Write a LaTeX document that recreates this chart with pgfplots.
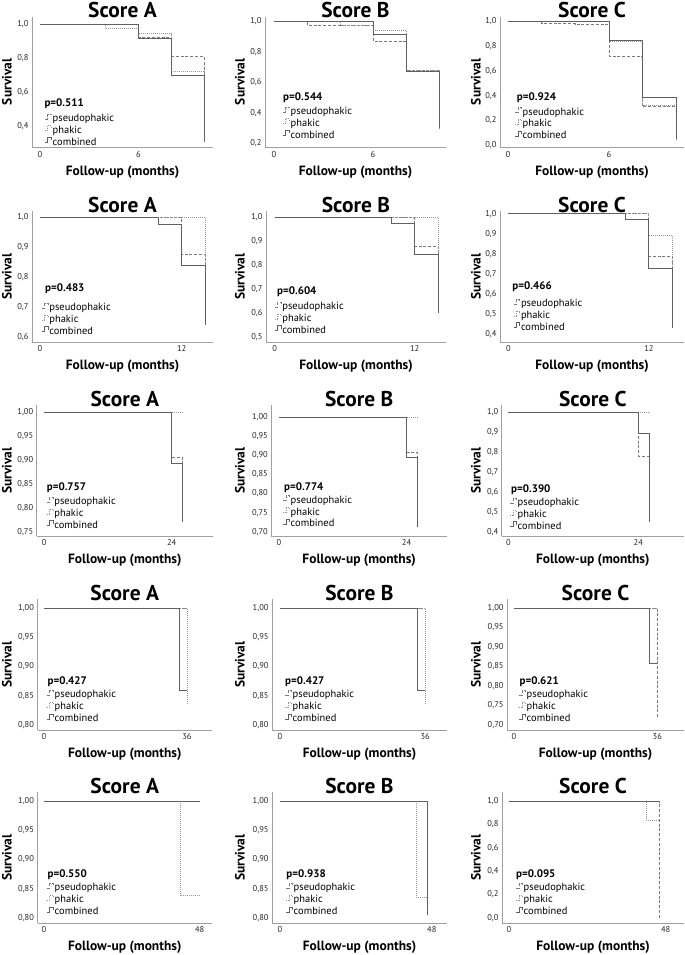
\documentclass[border=0pt]{standalone}
\usepackage{fontspec}
\setmainfont{PT Sans}
\usepackage{pgfplots}
\pgfplotsset{compat=1.18}
\usetikzlibrary{calc}
\definecolor{axisgray}{HTML}{A0A0A0}
\definecolor{cpseudo}{HTML}{7A7A7A}
\definecolor{cphakic}{HTML}{959595}
\definecolor{ccomb}{HTML}{606060}
\tikzset{
  pseudo/.style={color=cpseudo, line width=0.75bp, dash pattern=on 3bp off 1.8bp},
  phakic/.style={color=cphakic, line width=0.75bp, dash pattern=on 0.9bp off 1.1bp},
  comb/.style={color=ccomb, line width=0.75bp},
  pval/.style={anchor=west, font=\fontsize{11}{12}\selectfont\bfseries, inner sep=0pt},
}
\pgfplotsset{
  km/.style={
    scale only axis, anchor=south west, height=131bp,
    axis x line*=bottom, axis y line*=left,
    axis line style={draw=axisgray, line width=0.6bp, -},
    major tick length=0pt,
    tick label style={font=\fontsize{8.5}{9}\selectfont, text=black!85},
    /pgf/number format/assume math mode=true,
    /pgf/number format/use comma,
    xticklabel style={/pgf/number format/.cd, fixed, precision=0},
    every axis title/.style={at={(0.5,1)}, anchor=center, yshift=6.5bp, inner sep=0pt,
      font=\fontsize{21.5}{24}\selectfont\bfseries},
    xlabel={Follow-up (months)},
    every axis x label/.style={at={(0.5,0)}, anchor=center, yshift=-24.5bp, inner sep=0pt,
      font=\fontsize{13.5}{15}\selectfont\bfseries},
    ylabel={Survival},
    legend style={draw=none, fill=none, anchor=south west, font=\fontsize{10.5}{11}\selectfont,
      inner sep=0pt, outer sep=0pt, row sep=1.2bp, yshift=-5bp,
      nodes={inner sep=0.5bp, text height=7.4bp, text depth=2.2bp},
      /tikz/every odd column/.style={column sep=0.6bp}},
    legend cell align=left,
    legend image code/.code={\draw[##1, line width=0.6bp] (0bp,0bp) -- (2.5bp,0bp) -- (2.5bp,5bp) -- (6bp,5bp) -- (6bp,2bp);},
    legend entries={pseudophakic,phakic,combined},
  },
  ylsh/.style={every axis y label/.style={rotate=90, inner sep=0pt, font=\fontsize{13.5}{15}\selectfont\bfseries,
     at={($(axis description cs:0,0.5)+(#1,0)$)}, anchor=center}},
  yprec/.style={yticklabel style={/pgf/number format/.cd, fixed, fixed zerofill, precision=#1}},
}
\begin{document}
\begin{tikzpicture}
\useasboundingbox (0,0) rectangle (685bp,-955bp);
% ================= ROW 1 =================
\begin{axis}[km, at={(32bp,-147.5bp)}, width=181bp, xmin=-0.49, xmax=10.55, ymin=0.2765, ymax=1.047,
  xtick={0,6}, ytick={0.4,0.6,0.8,1.0}, yprec=1, title={Score A}, ylsh=-25bp,
  legend style={at={(0.0718,0.0366)}}]
\addplot[pseudo] coordinates {(0,1)(6,1)(6,0.925)(8,0.925)(8,0.81)(10,0.81)(10,0.31)};
\addplot[phakic] coordinates {(0,1)(4,1)(4,0.975)(6,0.975)(6,0.945)(8,0.945)(8,0.724)(10,0.724)(10,0.31)};
\addplot[comb] coordinates {(0,1)(6,1)(6,0.921)(8,0.921)(8,0.70)(10,0.70)(10,0.31)};
\node[pval] at (rel axis cs:0.068,0.336) {p=0.511};
\end{axis}
\begin{axis}[km, at={(265bp,-147.5bp)}, width=181bp, xmin=-0.545, xmax=10.42, ymin=0.174, ymax=1.033,
  xtick={0,6}, ytick={0.2,0.4,0.6,0.8,1.0}, yprec=1, title={Score B}, ylsh=-25bp,
  legend style={at={(0.0994,0.090)}}]
\addplot[pseudo] coordinates {(0,1)(2,1)(2,0.976)(6,0.976)(6,0.873)(8,0.873)(8,0.677)(10,0.677)(10,0.30)};
\addplot[phakic] coordinates {(0,1)(4,1)(4,0.978)(6,0.978)(6,0.939)(8,0.939)(8,0.683)(10,0.683)(10,0.29)};
\addplot[comb] coordinates {(0,1)(6,1)(6,0.917)(8,0.917)(8,0.67)(10,0.67)(10,0.30)};
\node[pval] at (rel axis cs:0.0994,0.384) {p=0.544};
\end{axis}
\begin{axis}[km, at={(500bp,-147.5bp)}, width=184bp, xmin=-0.475, xmax=10.46, ymin=-0.019, ymax=1.04,
  xtick={0,6}, ytick={0.0,0.2,0.4,0.6,0.8,1.0}, yprec=1, title={Score C}, ylsh=-24bp,
  legend style={at={(0.0815,0.0847)}}]
\addplot[pseudo] coordinates {(0,1)(2,1)(2,0.981)(4,0.981)(4,0.973)(6,0.973)(6,0.72)(8,0.72)(8,0.31)(10,0.31)(10,0.05)};
\addplot[phakic] coordinates {(0,1)(6,1)(6,0.838)(8,0.838)(8,0.323)(10,0.323)(10,0.04)};
\addplot[comb] coordinates {(0,1)(6,1)(6,0.849)(8,0.849)(8,0.385)(10,0.385)(10,0.05)};
\node[pval] at (rel axis cs:0.0908,0.382) {p=0.924};
\end{axis}
% ================= ROW 2 =================
\begin{axis}[km, at={(32bp,-342bp)}, width=181bp, xmin=-0.68, xmax=14.66, ymin=0.583, ymax=1.020,
  xtick={0,12}, ytick={0.6,0.7,0.8,0.9,1.0}, yprec=1, title={Score A}, ylsh=-25bp,
  legend style={at={(0.0536,0.0771)}}]
\addplot[pseudo] coordinates {(0,1)(12,1)(12,0.874)(14,0.874)(14,0.64)};
\addplot[phakic] coordinates {(0,1)(14,1)(14,0.64)};
\addplot[comb] coordinates {(0,1)(10,1)(10,0.974)(12,0.974)(12,0.839)(14,0.839)(14,0.639)};
\node[pval] at (rel axis cs:0.0718,0.41) {p=0.483};
\end{axis}
\begin{axis}[km, at={(266bp,-342bp)}, width=180bp, xmin=-0.75, xmax=14.69, ymin=0.479, ymax=1.026,
  xtick={0,12}, ytick={0.5,0.6,0.7,0.8,0.9,1.0}, yprec=1, title={Score B}, ylsh=-26bp,
  legend style={at={(0.0483,0.0847)}}]
\addplot[pseudo] coordinates {(0,1)(12,1)(12,0.879)(14,0.879)(14,0.60)};
\addplot[phakic] coordinates {(0,1)(14,1)(14,0.60)};
\addplot[comb] coordinates {(0,1)(10,1)(10,0.976)(12,0.976)(12,0.844)(14,0.844)(14,0.60)};
\node[pval] at (rel axis cs:0.0611,0.382) {p=0.604};
\end{axis}
\begin{axis}[km, at={(500bp,-342bp)}, width=184bp, xmin=-0.71, xmax=15.0, ymin=0.362, ymax=1.013,
  xtick={0,12}, ytick={0.4,0.5,0.6,0.7,0.8,0.9,1.0}, yprec=1, title={Score C}, ylsh=-24bp,
  legend style={at={(0.0723,0.1076)}}]
\addplot[pseudo] coordinates {(0,1)(12,1)(12,0.788)(14,0.788)(14,0.44)};
\addplot[phakic] coordinates {(0,1)(12,1)(12,0.894)(14,0.894)(14,0.44)};
\addplot[comb] coordinates {(0,1)(10,1)(10,0.97)(12,0.97)(12,0.728)(14,0.728)(14,0.433)};
\node[pval] at (rel axis cs:0.0668,0.42) {p=0.466};
\end{axis}
% ================= ROW 3 =================
\begin{axis}[km, at={(36.7bp,-536bp)}, width=176.3bp, xmin=-1.43, xmax=31.77, ymin=0.741, ymax=1.015,
  xtick={0,24}, ytick={0.75,0.80,0.85,0.90,0.95,1.00}, yprec=2, title={Score A}, ylsh=-29.7bp,
  legend style={at={(0.0567,0.0771)}}]
\addplot[pseudo] coordinates {(0,1)(24,1)(24,0.906)(26,0.906)(26,0.771)};
\addplot[phakic] coordinates {(0,1)(26,1)};
\addplot[comb] coordinates {(0,1)(24,1)(24,0.893)(26,0.893)(26,0.771)};
\node[pval] at (rel axis cs:0.0567,0.372) {p=0.757};
\end{axis}
\begin{axis}[km, at={(271.3bp,-536bp)}, width=175.7bp, xmin=-1.45, xmax=31.6, ymin=0.689, ymax=1.031,
  xtick={0,24}, ytick={0.70,0.75,0.80,0.85,0.90,0.95,1.00}, yprec=2, title={Score B}, ylsh=-31.3bp,
  legend style={at={(0.0666,0.0878)}}]
\addplot[pseudo] coordinates {(0,1)(24,1)(24,0.907)(26,0.907)(26,0.713)};
\addplot[phakic] coordinates {(0,1)(26,1)};
\addplot[comb] coordinates {(0,1)(24,1)(24,0.894)(26,0.894)(26,0.713)};
\node[pval] at (rel axis cs:0.0723,0.372) {p=0.774};
\end{axis}
\begin{axis}[km, at={(501.7bp,-536bp)}, width=182.3bp, xmin=-1.22, xmax=32.43, ymin=0.378, ymax=1.036,
  xtick={0,24}, ytick={0.4,0.5,0.6,0.7,0.8,0.9,1.0}, yprec=1, title={Score C}, ylsh=-25.7bp,
  legend style={at={(0.0455,0.0695)}}]
\addplot[pseudo] coordinates {(0,1)(24,1)(24,0.78)(26,0.78)(26,0.446)};
\addplot[phakic] coordinates {(0,1)(26,1)};
\addplot[comb] coordinates {(0,1)(24,1)(24,0.894)(26,0.894)(26,0.446)};
\node[pval] at (rel axis cs:0.051,0.351) {p=0.390};
\end{axis}
% ================= ROW 4 =================
\begin{axis}[km, at={(37.5bp,-730bp)}, width=174.5bp, xmin=-1.64, xmax=42.3, ymin=0.7915, ymax=1.0155,
  xtick={0,36}, ytick={0.80,0.85,0.90,0.95,1.00}, yprec=2, title={Score A}, ylsh=-30.5bp,
  legend style={at={(0.0544,0.0824)}}]
\addplot[pseudo] coordinates {(0,1)(36,1)};
\addplot[phakic] coordinates {(0,1)(36,1)(36,0.836)};
\addplot[comb] coordinates {(0,1)(34,1)(34,0.86)(36,0.86)};
\node[pval] at (rel axis cs:0.0567,0.37) {p=0.427};
\end{axis}
\begin{axis}[km, at={(272bp,-730bp)}, width=175bp, xmin=-1.99, xmax=41.4, ymin=0.7915, ymax=1.0155,
  xtick={0,36}, ytick={0.80,0.85,0.90,0.95,1.00}, yprec=2, title={Score B}, ylsh=-32bp,
  legend style={at={(0.0743,0.0824)}}]
\addplot[pseudo] coordinates {(0,1)(36,1)};
\addplot[phakic] coordinates {(0,1)(36,1)(36,0.836)};
\addplot[comb] coordinates {(0,1)(34,1)(34,0.86)(36,0.86)};
\node[pval] at (rel axis cs:0.0743,0.37) {p=0.427};
\end{axis}
\begin{axis}[km, at={(507bp,-730bp)}, width=177bp, xmin=-1.74, xmax=42.7, ymin=0.687, ymax=1.023,
  xtick={0,36}, ytick={0.70,0.75,0.80,0.85,0.90,0.95,1.00}, yprec=2, title={Score C}, ylsh=-31bp,
  legend style={at={(0.0678,0.0824)}}]
\addplot[pseudo] coordinates {(0,1)(36,1)(36,0.718)};
\addplot[phakic] coordinates {(0,1)(36,1)};
\addplot[comb] coordinates {(0,1)(34,1)(34,0.857)(36,0.857)};
\node[pval] at (rel axis cs:0.07,0.37) {p=0.621};
\end{axis}
% ================= ROW 5 =================
\begin{axis}[km, at={(37.5bp,-923bp)}, width=174.5bp, xmin=-2.0, xmax=51.8, ymin=0.7915, ymax=1.0155,
  xtick={0,48}, ytick={0.80,0.85,0.90,0.95,1.00}, yprec=2, title={Score A}, ylsh=-30.5bp,
  legend style={at={(0.0544,0.0824)}}]
\addplot[pseudo] coordinates {(0,1)(48,1)};
\addplot[phakic] coordinates {(0,1)(42,1)(42,0.838)(48,0.838)};
\addplot[comb] coordinates {(0,1)(48,1)};
\node[pval] at (rel axis cs:0.0567,0.37) {p=0.550};
\end{axis}
\begin{axis}[km, at={(272bp,-923bp)}, width=175bp, xmin=-2.5, xmax=52.8, ymin=0.7915, ymax=1.0155,
  xtick={0,48}, ytick={0.80,0.85,0.90,0.95,1.00}, yprec=2, title={Score B}, ylsh=-32bp,
  legend style={at={(0.08,0.0824)}}]
\addplot[pseudo] coordinates {(0,1)(46.5,1)};
\addplot[phakic] coordinates {(0,1)(43,1)(43,0.836)(46.5,0.836)};
\addplot[comb] coordinates {(0,1)(46.5,1)(46.5,0.805)};
\node[pval] at (rel axis cs:0.0817,0.37) {p=0.938};
\end{axis}
\begin{axis}[km, at={(502bp,-923bp)}, width=182bp, xmin=-2.1, xmax=53.6, ymin=-0.043, ymax=1.077,
  xtick={0,48}, ytick={0.0,0.2,0.4,0.6,0.8,1.0}, yprec=1, title={Score C}, ylsh=-26bp,
  legend style={at={(0.0769,0.0824)}}]
\addplot[pseudo] coordinates {(0,1)(46,1)(46,0.0)};
\addplot[phakic] coordinates {(0,1)(42,1)(42,0.836)(46,0.836)};
\addplot[comb] coordinates {(0,1)(46,1)};
\node[pval] at (rel axis cs:0.0769,0.37) {p=0.095};
\end{axis}
\end{tikzpicture}
\end{document}
